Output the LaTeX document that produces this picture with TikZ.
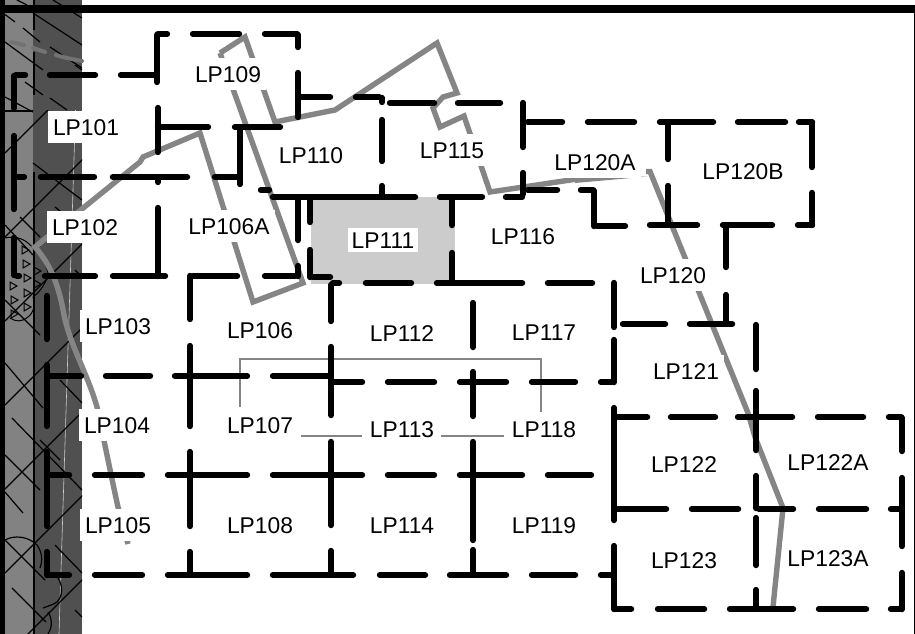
\documentclass[tikz,border=0pt]{standalone}
\usepackage{fontspec}
\setmainfont{Liberation Sans}
\definecolor{wallL}{HTML}{828282}
\definecolor{wallD}{HTML}{505050}
\definecolor{route}{HTML}{858585}
\definecolor{roomfill}{HTML}{CCCCCC}
\tikzset{
  blk/.style={line width=5.8pt,line cap=round,black},
  hatchline/.style={line width=1.2pt,black},
  routeline/.style={line width=5.4pt,route,line join=miter},
  thinroute/.style={line width=1.8pt,route},
  lbl/.style={fill=white,inner xsep=5pt,inner ysep=8pt,text height=16pt,text depth=0pt,
    font=\fontsize{22.8}{25}\selectfont},
}
\begin{document}
\begin{tikzpicture}[x=1pt,y=-1pt]
\useasboundingbox (0,0) rectangle (915,634);
\fill[white] (0,0) rectangle (915,634);
% wall
\fill[wallL] (5,0) rectangle (33,634);
\fill[wallD] (33,0) rectangle (82,634);
\draw[line width=.6pt,white!70!wallD] (79,0) -- (59,634);
\begin{scope}
\clip (5,0) rectangle (82,634);
\foreach \s in {158,242,326,410,494,578,662} \draw[hatchline] (5,\s-5) -- (\s-5,5);
\fill[wallL] (5,0) rectangle (33,110);
\fill[wallD] (33,0) rectangle (82,110);
\foreach \a/\b/\c/\d in {
 3/13/15/22, 23/28/40/42, 33/13/82/45, 5/42/43/70, 50/47/82/68, 25/82/43/95, 50/98/67/110,
 5/97/33/112, 17/0/27/5, 53/0/82/18, 75/65/82/70,
 33/163/82/200, 55/207/65/215, 20/217/40/237, 75/270/82/277,
 5/363/43/408, 60/380/82/403, 12/418/82/490, 5/492/23/513, 55/545/82/573,
 5/540/45/580, 12/588/46/622, 75/610/82/617, 5/455/40/490, 40/440/60/460, 5/225/33/255, 5/300/40/335}
 \draw[hatchline] (\a,\b) -- (\c,\d);
\end{scope}
\draw[line width=1.4pt] (34,0) -- (34,30) (34,52) -- (34,95) (34,172) -- (34,634);
\draw[line width=1.2pt] (5,111) -- (33,111);
\draw[line width=4pt,wallD!80!white,line cap=round] (11,42) -- (24,45) (33,48) -- (45,52) (56,55) .. controls (65,58) and (72,59) .. (82,61);
% triangles and curves
\foreach \x/\y in {25/250,26/264,27/278,13/286,27/293,14/300,27/307,14/314,37/271,37/284}
  \draw[line width=1pt] (\x-3,\y-4) -- (\x+4,\y) -- (\x-3,\y+4) -- cycle;
\draw[line width=1pt] (5,238) .. controls (14,236) and (22,238) .. (28,243) .. controls (36,250) and (46,262) .. (48,273)
  .. controls (47,282) and (40,292) .. (33,297) .. controls (36,305) and (34,312) .. (28,317) .. controls (22,322) and (16,322) .. (10,318);
\draw[line width=1.2pt] (5,540) .. controls (14,535) and (28,536) .. (37,545) .. controls (42,552) and (43,560) .. (40,568);
\draw[line width=1.2pt] (58,578) .. controls (63,586) and (63,596) .. (57,602) .. controls (53,605) and (48,606) .. (43,608);
\draw[line width=1.2pt] (48,612) .. controls (52,618) and (53,626) .. (48,634);
% top and right rules
\draw[line width=.8pt,black!45] (82,5) -- (915,5);
\fill[black] (0,5.5) rectangle (915,12.8);
\fill[black] (0,0) rectangle (5,634);
\draw[line width=1pt] (914.5,12) -- (914.5,634);
% shaded room
\fill[roomfill] (311,197) rectangle (455,284);
% thin connectors
\coordinate (ta) at (240,407); \coordinate (tb) at (240,359); \coordinate (tc) at (541,359); \coordinate (td) at (541,412);
\draw[thinroute] (ta) -- (tb) -- (tc) -- (td);
\coordinate (te) at (301,436); \coordinate (tf) at (362,436); \coordinate (tg) at (441,436); \coordinate (th) at (504,436);
\draw[thinroute] (te) -- (tf) (tg) -- (th);
% heavy grey routes
\draw[routeline] (220,53) -- (245,37) -- (275,122) -- (335,110) -- (437,43) -- (457,93) -- (443,97) -- (433,108) -- (440,127) -- (464,116) -- (490,192) -- (577,179);
\draw[routeline] (220,53) -- (303,283) -- (253,302) -- (200,133) -- (143,157) -- (140,162) -- (35,247)
  .. controls (48,262) and (58,280) .. (64,315) .. controls (70,345) and (88,375) .. (97,407) .. controls (104,440) and (112,480) .. (118,507) -- (128,544);
\fill[route] (575,176.5) -- (648,176.5) -- (575,183) -- cycle;
\draw[routeline,line cap=butt] (646,171.5) -- (650,171.5) -- (748,413) -- (755,437) -- (783,508) -- (773,607);
% labels
\foreach \n/\x/\y in {LP101/86/127,LP102/85/227,LP103/118/326,LP104/117/425,LP105/118/525,
  LP106/260/330,LP106A/229/226,LP107/260/425,LP108/260/525,LP109/228/74,LP110/311/155,
  LP112/402/333,LP113/402/429,LP114/402/525,LP115/452/150,LP116/523/236,LP117/544/332,
  LP118/544/429,LP119/544/525,LP120/673/275,LP120A/595/162,LP120B/743/171,LP121/686/371,
  LP122/684/464,LP122A/828/462,LP123/684/560,LP123A/828/558}
  \node[lbl] (\n) at (\x,\y) {\n};
\node[lbl,inner xsep=4pt,inner ysep=4pt] (LP111) at (383,240) {LP111};
% black dashed walls: horizontal
\foreach \y/\a/\b in {
 34/155/170, 34/190/242, 34/262/300,
 75/13/28, 75/47/98, 75/118/157,
 97/298/333, 97/353/382, 103/387/437, 103/455/503,
 122/525/565, 122/585/637, 122/657/716, 122/735/788, 122/796/815,
 127/155/211, 127/232/283,
 177/14/27, 177/38/97, 177/110/190, 177/212/240,
 190/258/272, 190/525/560, 190/578/596,
 197/270/418, 197/437/485, 197/503/525,
 226/594/628, 225/647/700, 225/720/775, 225/795/815,
 276/14/22, 276/42/98, 276/110/168, 276/190/240, 276/262/298,
 277/310/333,
 283/330/342, 283/363/414, 283/434/525, 283/545/595,
 324/620/668, 324/687/735,
 376/47/84, 376/103/153, 376/172/250, 376/270/331,
 382/331/365, 382/385/437, 382/457/509, 382/529/578, 382/598/615,
 417/612/650, 417/668/718, 417/735/795, 417/815/866, 417/886/904,
 475/47/72, 475/92/145, 475/165/250, 475/270/365, 475/385/437, 475/457/525, 475/545/594,
 509/615/669, 509/689/741, 509/756/796, 509/816/869, 509/888/902,
 575/47/72, 575/92/145, 575/165/250, 575/270/356, 575/377/428, 575/447/509, 575/529/578, 575/598/614,
 609/612/634, 609/655/707, 609/727/796, 609/816/869, 609/888/904}
 \draw[blk] (\a+2.7,\y) -- (\b-2.7,\y);
% black dashed walls: vertical
\foreach \x/\a/\b in {
 14/73/111, 14/133/212, 14/235/278,
 47/293/342, 47/362/429, 47/449/529, 47/549/578,
 157/32/85, 158/105/155, 158/177/185, 158/205/279,
 190/273/322, 190/343/429, 190/449/529, 190/549/576,
 240/125/187,
 298/32/50, 298/70/120, 298/197/243, 298/263/279,
 310/197/225, 310/247/280,
 331/282/324, 331/344/418, 331/439/528, 331/548/576,
 382/95/105, 382/117/164, 382/183/197,
 452/197/228, 452/250/284,
 473/300/350, 473/369/419, 473/439/543, 473/547/576,
 523/100/150, 523/170/197,
 594/188/229,
 614/280/330, 614/337/385, 614/405/523, 614/543/612,
 668/122/162, 668/183/226,
 726/223/270, 726/292/324,
 756/322/372, 756/388/453, 756/473/511, 756/515/568, 756/587/610,
 812/120/170, 812/190/228,
 902/415/454, 902/475/549, 902/570/612}
 \draw[blk] (\x,\a+2.7) -- (\x,\b-2.7);
\end{tikzpicture}
\end{document}
